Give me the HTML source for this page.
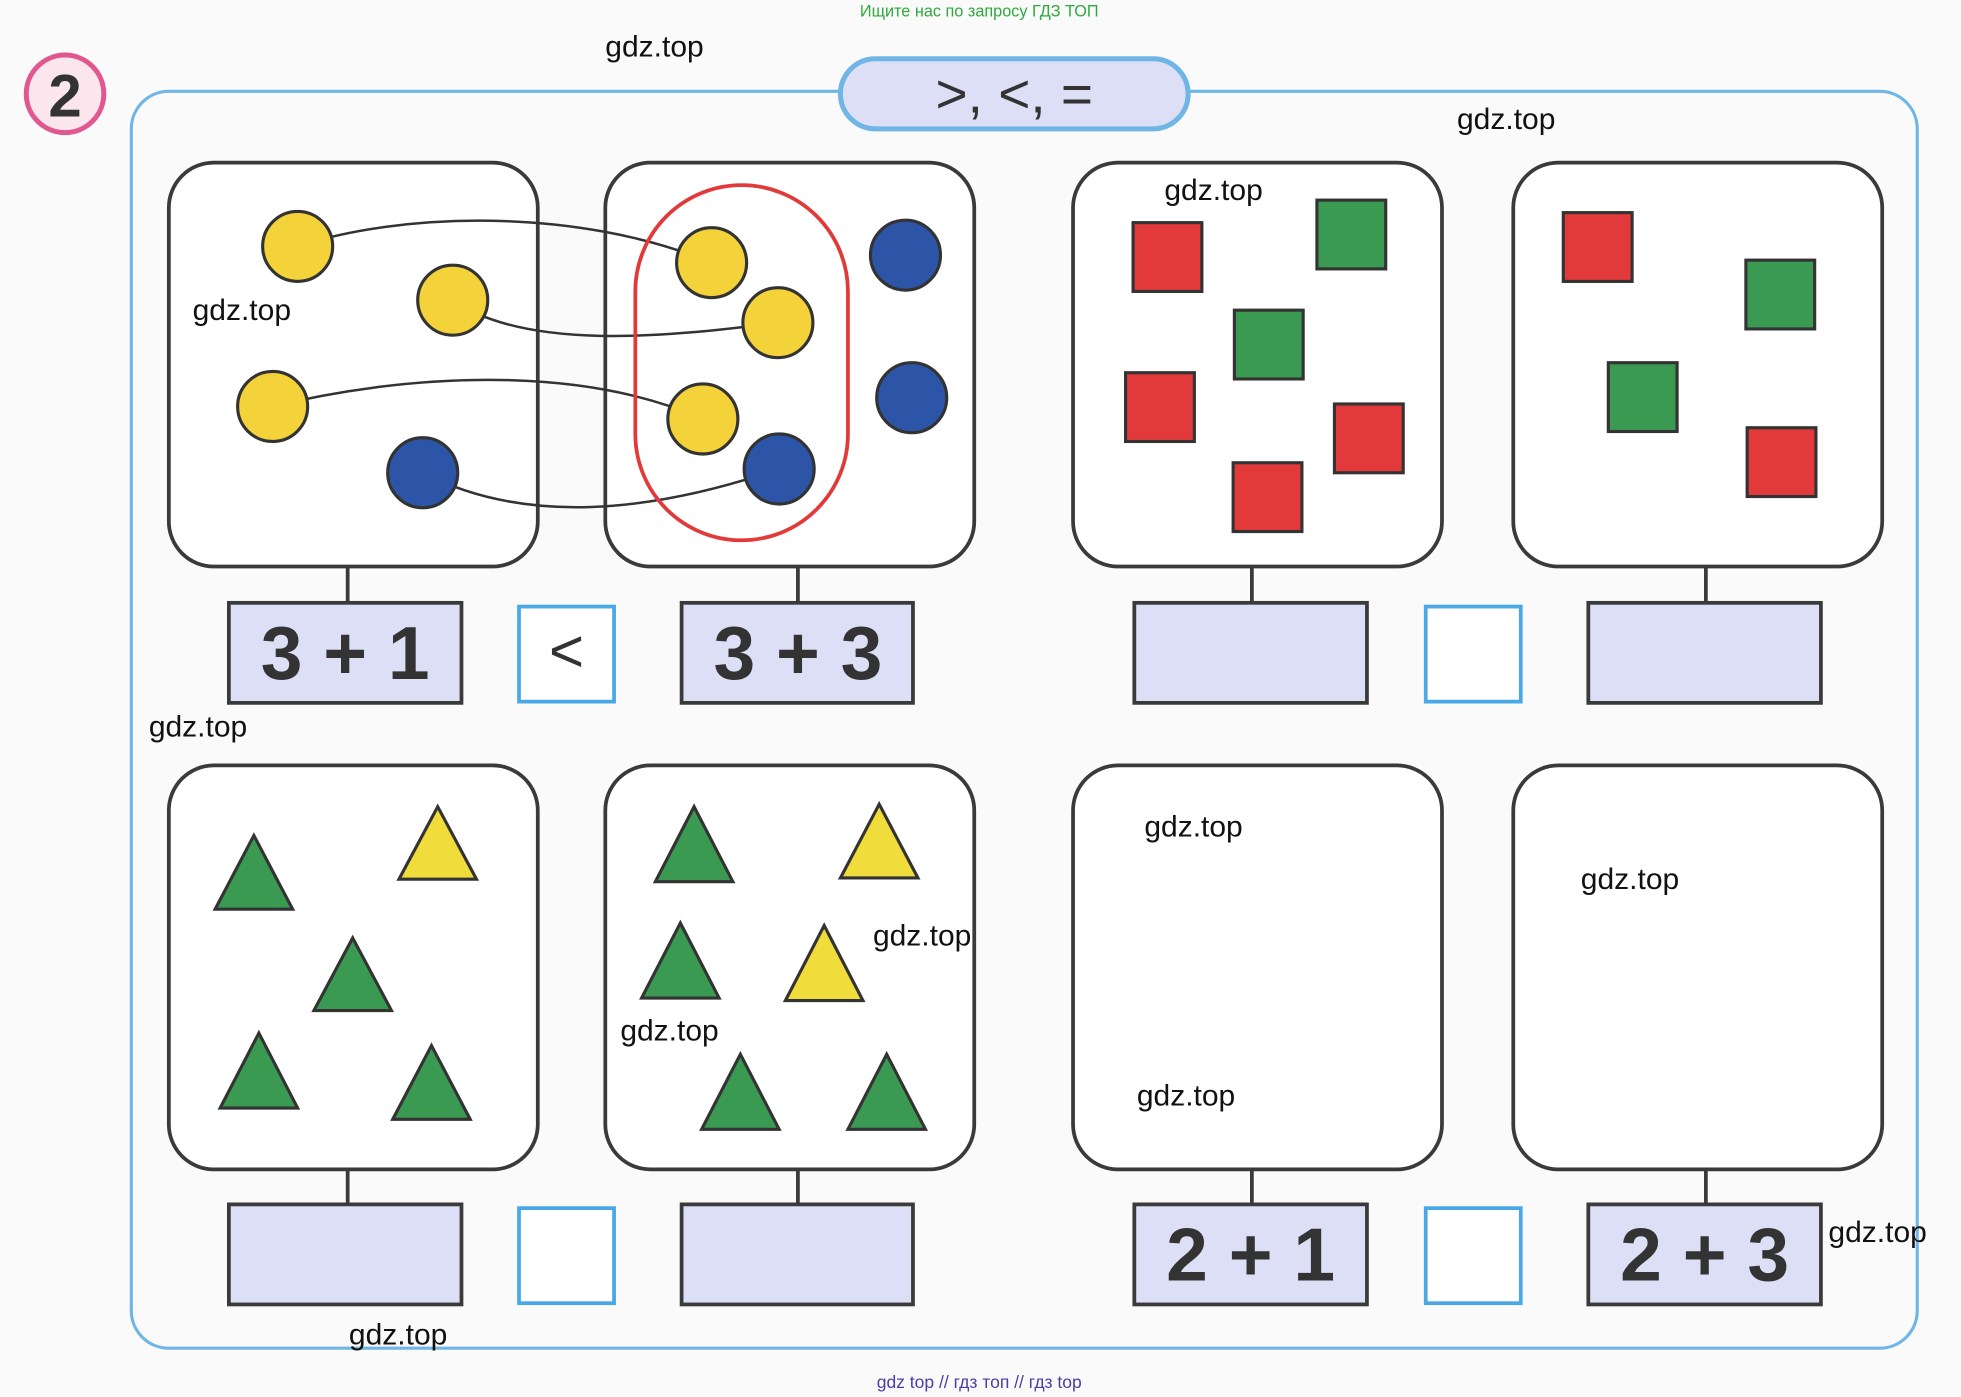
<!DOCTYPE html>
<html><head><meta charset="utf-8"><style>
html,body{margin:0;padding:0;background:#fafafa;}
svg{display:block}
text{font-family:"Liberation Sans",sans-serif}
</style></head><body>
<svg width="1961" height="1397" viewBox="0 0 1568 1117" xmlns="http://www.w3.org/2000/svg">
<rect width="1568" height="1117" fill="#fafafa"/>
<text x="783" y="13" font-size="13" fill="#2eaa3c" text-anchor="middle">Ищите нас по запросу ГДЗ ТОП</text>
<!-- frame -->
<rect x="105" y="73" width="1428" height="1005" rx="30" fill="none" stroke="#6fb6e6" stroke-width="2.5"/>
<circle cx="52" cy="75" r="31" fill="#fbe6ee" stroke="#e0588f" stroke-width="4"/>
<text x="52" y="93" font-size="48" font-weight="bold" text-anchor="middle" fill="#333">2</text>
<rect x="672" y="47" width="278" height="56" rx="28" fill="#dcdff5" stroke="#6fb6e6" stroke-width="4"/>
<text x="811" y="90" font-size="44" text-anchor="middle" fill="#333">&gt;,  &lt;,  =</text>
<g fill="#fff" stroke="#3a3a3a" stroke-width="3">
<rect x="135" y="130" width="295" height="323" rx="36"/>
<rect x="484" y="130" width="295" height="323" rx="36"/>
<rect x="858" y="130" width="295" height="323" rx="36"/>
<rect x="1210" y="130" width="295" height="323" rx="36"/>
<rect x="135" y="612" width="295" height="323" rx="36"/>
<rect x="484" y="612" width="295" height="323" rx="36"/>
<rect x="858" y="612" width="295" height="323" rx="36"/>
<rect x="1210" y="612" width="295" height="323" rx="36"/>
</g>
<g stroke="#3a3a3a" stroke-width="3">
<line x1="278" y1="453" x2="278" y2="482"/><line x1="638" y1="453" x2="638" y2="482"/>
<line x1="1001" y1="453" x2="1001" y2="482"/><line x1="1364" y1="453" x2="1364" y2="482"/>
<line x1="278" y1="935" x2="278" y2="963"/><line x1="638" y1="935" x2="638" y2="963"/>
<line x1="1001" y1="935" x2="1001" y2="963"/><line x1="1364" y1="935" x2="1364" y2="963"/>
</g>
<g fill="#dcdff5" stroke="#3a3a3a" stroke-width="3">
<rect x="183" y="482" width="186" height="80"/><rect x="545" y="482" width="185" height="80"/>
<rect x="907" y="482" width="186" height="80"/><rect x="1270" y="482" width="186" height="80"/>
<rect x="183" y="963" width="186" height="80"/><rect x="545" y="963" width="185" height="80"/>
<rect x="907" y="963" width="186" height="80"/><rect x="1270" y="963" width="186" height="80"/>
</g>
<g fill="#fff" stroke="#4aa8e6" stroke-width="3">
<rect x="415" y="485" width="76" height="76"/><rect x="1140" y="485" width="76" height="76"/>
<rect x="415" y="966" width="76" height="76"/><rect x="1140" y="966" width="76" height="76"/>
</g>
<g font-size="60" font-weight="bold" fill="#333" text-anchor="middle">
<text x="276" y="543">3 + 1</text><text x="638" y="543">3 + 3</text>
<text x="1000" y="1024">2 + 1</text><text x="1363" y="1024">2 + 3</text>
</g>
<text x="453" y="537" font-size="48" fill="#333" text-anchor="middle">&lt;</text>
<!-- curves -->
<g fill="none" stroke="#333" stroke-width="2">
<path d="M238 197 C320 170 460 165 569 210"/>
<path d="M362 240 C420 280 530 270 622 258"/>
<path d="M218 325 C320 300 460 290 562 335"/>
<path d="M338 378 C420 420 520 410 623 375"/>
</g>
<rect x="508" y="148" width="170" height="284" rx="85" fill="none" stroke="#e23a3a" stroke-width="3"/>
<g stroke="#333" stroke-width="2.5">
<g fill="#f4d23a">
<circle cx="238" cy="197" r="28"/><circle cx="362" cy="240" r="28"/><circle cx="218" cy="325" r="28"/>
<circle cx="569" cy="210" r="28"/><circle cx="622" cy="258" r="28"/><circle cx="562" cy="335" r="28"/>
</g>
<g fill="#2c55a8">
<circle cx="338" cy="378" r="28"/><circle cx="623" cy="375" r="28"/><circle cx="724" cy="204" r="28"/><circle cx="729" cy="318" r="28"/>
</g>
<g fill="#e23a3a">
<rect x="906" y="178" width="55" height="55"/><rect x="900" y="298" width="55" height="55"/>
<rect x="1067" y="323" width="55" height="55"/><rect x="986" y="370" width="55" height="55"/>
<rect x="1250" y="170" width="55" height="55"/><rect x="1397" y="342" width="55" height="55"/>
</g>
<g fill="#3a9a52">
<rect x="1053" y="160" width="55" height="55"/><rect x="987" y="248" width="55" height="55"/>
<rect x="1396" y="208" width="55" height="55"/><rect x="1286" y="290" width="55" height="55"/>
</g>
<g fill="#3a9a52">
<polygon points="203,668 234,727 172,727"/><polygon points="282,750 313,808 251,808"/>
<polygon points="207,826 238,886 176,886"/><polygon points="345,836 376,895 314,895"/>
<polygon points="555,645 586,705 524,705"/><polygon points="544,738 575,798 513,798"/>
<polygon points="592,843 623,903 561,903"/><polygon points="709,843 740,903 678,903"/>
</g>
<g fill="#f0dc3a">
<polygon points="350,645 381,703 319,703"/><polygon points="703,643 734,702 672,702"/>
<polygon points="659,740 690,800 628,800"/>
</g>
</g>
<g font-size="24" fill="#111">
<text x="484" y="45">gdz.top</text><text x="1165" y="103">gdz.top</text>
<text x="931" y="160">gdz.top</text><text x="154" y="256">gdz.top</text>
<text x="119" y="589">gdz.top</text><text x="915" y="669">gdz.top</text>
<text x="1264" y="711">gdz.top</text><text x="698" y="756">gdz.top</text>
<text x="496" y="832">gdz.top</text><text x="909" y="884">gdz.top</text>
<text x="1462" y="993">gdz.top</text><text x="279" y="1075">gdz.top</text>
</g>
<text x="783" y="1110" font-size="14" fill="#4a3ea8" text-anchor="middle">gdz top  //  гдз топ  //  гдз top</text>
</svg>
</body></html>
